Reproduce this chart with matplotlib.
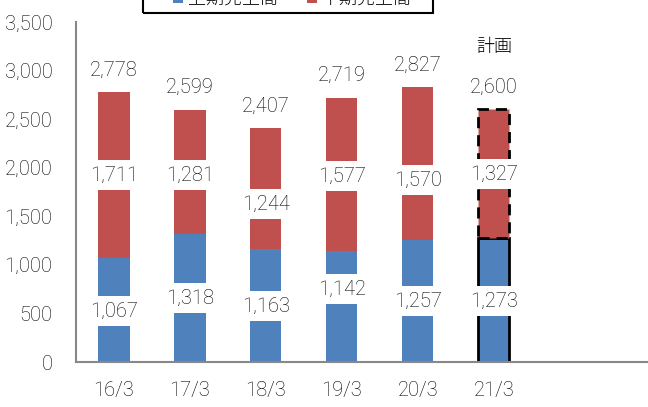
import matplotlib
matplotlib.use("Agg")
import matplotlib.pyplot as plt
from matplotlib.patches import Rectangle

plt.rcParams['font.family'] = ['Roboto', 'Noto Sans CJK JP', 'DejaVu Sans']
plt.rcParams['font.weight'] = 'light'
plt.rcParams['text.color'] = 'black'

# data
periods = ['16/3', '17/3', '18/3', '19/3', '20/3', '21/3']
first_half = [1067, 1318, 1163, 1142, 1257, 1273]     # 上期売上高
second_half = [1711, 1281, 1244, 1577, 1570, 1327]    # 下期売上高
totals = [2778, 2599, 2407, 2719, 2827, 2600]
series_names = ['上期売上高', '下期売上高']

# label heights as placed in the original (layout only)
lbl_y_lo = [525, 659, 576, 751, 628, 628]
lbl_y_hi = [1924, 1924, 1626, 1914, 1873, 1935]

blue = '#4F81BD'
red = '#C0504D'
fs = 14.5

W, H = 648, 407
fig = plt.figure(figsize=(W / 100, H / 100), dpi=100)
ax = fig.add_axes([76 / W, 45 / H, 572 / W, 340 / H])

x = list(range(len(periods)))
w = 0.41
b1 = ax.bar(x, first_half, w, color=blue, zorder=2)
b2 = ax.bar(x, second_half, w, bottom=first_half, color=red, zorder=2)

# plan year: outlined bars
b1[-1].set_edgecolor('black')
b1[-1].set_linewidth(2)
b2[-1].set_edgecolor('black')
b2[-1].set_linewidth(2)
b2[-1].set_linestyle((0, (4, 2.5)))

box = dict(boxstyle='square,pad=0.27', fc='white', ec='none')
for i in x:
    ax.text(i, lbl_y_lo[i], f'{first_half[i]:,}', ha='center', va='center',
            fontsize=fs, bbox=box, zorder=4)
    ax.text(i, lbl_y_hi[i], f'{second_half[i]:,}', ha='center', va='center',
            fontsize=fs, bbox=box, zorder=4)
    ax.annotate(f'{totals[i]:,}', (i, totals[i]), xytext=(0, 16),
                textcoords='offset points', ha='center', va='center',
                fontsize=fs, zorder=4)

ax.text(x[-1], 3241, '計画', ha='center', va='center', fontsize=13)

ax.set_xlim(-0.5, 7.03)
ax.set_ylim(0, 3500)
ax.set_xticks(x, periods)
ax.set_yticks(range(0, 3501, 500))
ax.yaxis.set_major_formatter(matplotlib.ticker.StrMethodFormatter('{x:,.0f}'))
ax.tick_params(length=0, labelsize=fs, colors='black')
ax.tick_params(axis='y', pad=17)
ax.tick_params(axis='x', pad=14)
for s in ['top', 'right']:
    ax.spines[s].set_visible(False)
for s in ['left', 'bottom']:
    ax.spines[s].set_color('#888888')
    ax.spines[s].set_linewidth(1.5)

# legend, mostly cut off at the top edge as in the original
fig.patches.append(Rectangle((143 / W, 1 - 13 / H), 290 / W, 0.2, transform=fig.transFigure,
                             fill=False, ec='black', lw=1.5))
for name, col, mx in zip(series_names, [blue, red], [173, 307]):
    fig.patches.append(Rectangle((mx / W, 1 - 3 / H), 10 / W, 10 / H,
                                 transform=fig.transFigure, fc=col, ec='none'))
    fig.text((mx + 15) / W, 1 + 1 / H, name, ha='left', va='center', fontsize=13)

fig.savefig('out.png', dpi=100)
